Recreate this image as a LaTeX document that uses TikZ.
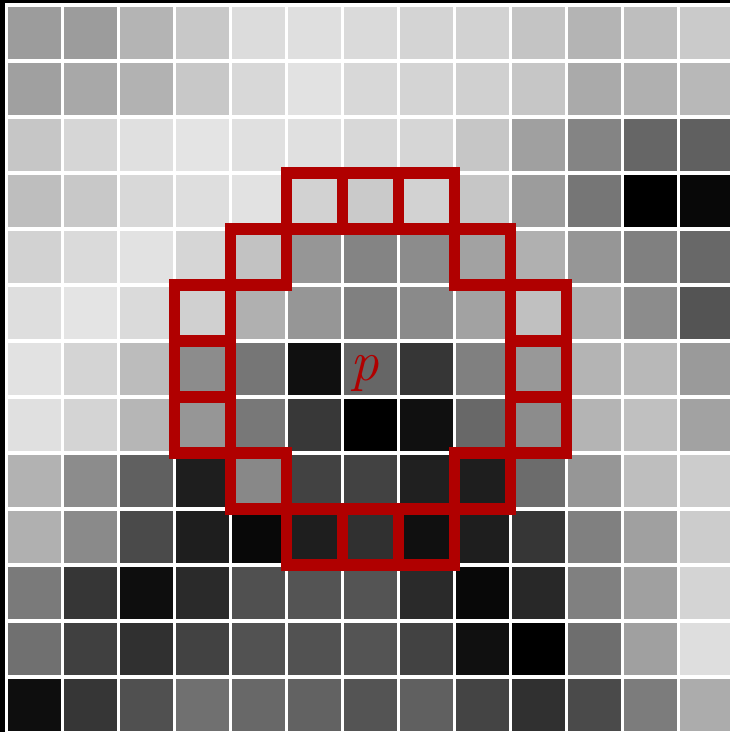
\documentclass[tikz,border=0pt]{standalone}
\usepackage{fontspec}
\definecolor{pred}{RGB}{176,0,0}
\begin{document}
\begin{tikzpicture}[x=1pt,y=-1pt,
  redsq/.style={draw=pred,line width=11.3pt,line join=miter},
  plabel/.style={text=pred,inner sep=0pt,font=\fontsize{57}{57}\selectfont\itshape}]
\useasboundingbox (0,0) rectangle (730,732);
\clip (0,0) rectangle (730,732);
\fill[black] (0,0) rectangle (730,732);
\fill[white] (4.8,3.2) rectangle (735,735);
\foreach \row [count=\r from 0] in {
 {156,156,180,200,220,223,218,212,210,196,180,190,202},
 {160,168,178,200,216,226,216,212,208,198,170,176,184},
 {198,214,224,228,224,224,216,214,198,160,132,102,96},
 {190,200,216,222,226,210,202,210,198,156,118,0,8},
 {210,218,226,214,194,150,132,140,162,176,150,128,104},
 {222,228,218,208,176,150,128,138,162,192,176,140,84},
 {226,212,188,140,118,16,102,54,128,152,180,184,154},
 {224,212,182,150,120,56,0,16,104,140,180,192,162},
 {178,140,96,30,136,66,66,32,30,108,150,190,204},
 {176,138,74,30,8,30,48,16,30,54,128,160,204},
 {122,54,14,42,80,84,84,42,8,40,128,160,212},
 {112,64,48,66,82,82,84,66,16,0,110,160,222},
 {14,54,80,112,104,98,84,96,68,48,74,124,172}}{
  \foreach \v [count=\c from 0] in \row {
    \definecolor{cellc}{RGB}{\v,\v,\v}
    \fill[cellc] ({6.6+56*\c+1.7},{5+56*\r+1.7}) rectangle ({6.6+56*\c+54.3},{5+56*\r+54.3});
  }
}
\foreach \c/\r in {5/3,6/3,7/3,4/4,8/4,3/5,9/5,3/6,9/6,3/7,9/7,4/8,8/8,5/9,6/9,7/9}{
  \draw[redsq] ({6.6+56*\c},{5+56*\r}) rectangle +(56,56);
}
\node[plabel] (p) at (365,373) {p};
\end{tikzpicture}
\end{document}
